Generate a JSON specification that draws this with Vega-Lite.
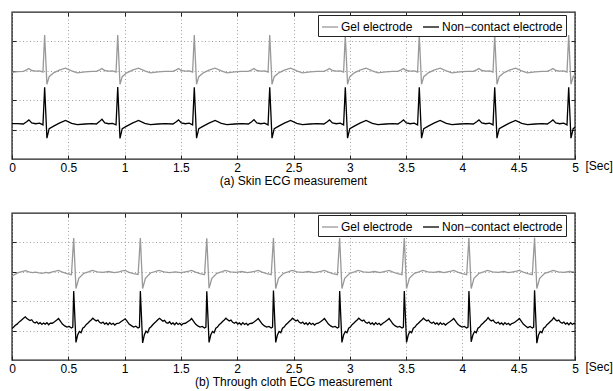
{
  "$schema": "https://vega.github.io/schema/vega-lite/v6.json",
  "background": "white",
  "padding": {"left": 7, "top": 10, "right": 0, "bottom": 0},
  "config": {
    "font": "Liberation Sans",
    "view": {"stroke": "#222222", "strokeWidth": 1.4},
    "concat": {"spacing": 23},
    "axis": {
      "labelFont": "Liberation Sans", "labelFontSize": 12, "labelColor": "black",
      "titleFont": "Liberation Sans", "titleFontSize": 12, "titleFontWeight": "normal", "titleColor": "black",
      "gridColor": "#8a8a8a", "gridDash": [1, 2.5], "gridWidth": 0.8, "gridOpacity": 1,
      "domain": false, "tickColor": "#222222", "tickWidth": 1, "minExtent": 0, "labelFlush": false
    },
    "legend": {
      "labelFont": "Liberation Sans", "labelFontSize": 12, "labelColor": "black",
      "symbolType": "stroke", "symbolStrokeWidth": 1.3, "symbolSize": 256,
      "strokeColor": "#222222", "fillColor": "white", "padding": 3,
      "columnPadding": 7, "labelOffset": 2, "direction": "horizontal", "title": null
    },
    "title": {"font": "Liberation Sans", "fontSize": 12, "fontWeight": "normal", "color": "black"}
  },
  "datasets": {
    "ag": [
      {"t":0,"v":2.95},{"t":0.05,"v":2.97},{"t":0.10,"v":2.98},{"t":0.13,"v":3.03},{"t":0.15,"v":3.08},{"t":0.175,"v":3.01},{"t":0.21,"v":2.99},{"t":0.245,"v":3.00},{"t":0.275,"v":2.96},{"t":0.290,"v":4.22},{"t":0.310,"v":2.54},{"t":0.330,"v":2.80},{"t":0.370,"v":2.93},{"t":0.420,"v":3.02},{"t":0.475,"v":3.09},{"t":0.530,"v":3.00},{"t":0.580,"v":2.93},{"t":0.650,"v":2.96},{"t":0.710,"v":2.98},
      {"t":0.749,"v":2.98},{"t":0.779,"v":3.03},{"t":0.799,"v":3.08},{"t":0.824,"v":3.01},{"t":0.859,"v":2.99},{"t":0.894,"v":3.00},{"t":0.924,"v":2.96},{"t":0.939,"v":4.22},{"t":0.959,"v":2.54},{"t":0.979,"v":2.80},{"t":1.019,"v":2.93},{"t":1.069,"v":3.02},{"t":1.124,"v":3.09},{"t":1.179,"v":3.00},{"t":1.229,"v":2.93},{"t":1.299,"v":2.96},{"t":1.359,"v":2.98},
      {"t":1.429,"v":2.98},{"t":1.459,"v":3.03},{"t":1.479,"v":3.08},{"t":1.504,"v":3.01},{"t":1.539,"v":2.99},{"t":1.574,"v":3.00},{"t":1.604,"v":2.96},{"t":1.619,"v":4.22},{"t":1.639,"v":2.54},{"t":1.659,"v":2.80},{"t":1.699,"v":2.93},{"t":1.749,"v":3.02},{"t":1.804,"v":3.09},{"t":1.859,"v":3.00},{"t":1.909,"v":2.93},{"t":1.979,"v":2.96},{"t":2.039,"v":2.98},
      {"t":2.099,"v":2.98},{"t":2.129,"v":3.03},{"t":2.149,"v":3.08},{"t":2.174,"v":3.01},{"t":2.209,"v":2.99},{"t":2.244,"v":3.00},{"t":2.274,"v":2.96},{"t":2.289,"v":4.22},{"t":2.309,"v":2.54},{"t":2.329,"v":2.80},{"t":2.369,"v":2.93},{"t":2.419,"v":3.02},{"t":2.474,"v":3.09},{"t":2.529,"v":3.00},{"t":2.579,"v":2.93},{"t":2.649,"v":2.96},{"t":2.709,"v":2.98},
      {"t":2.770,"v":2.98},{"t":2.800,"v":3.03},{"t":2.820,"v":3.08},{"t":2.845,"v":3.01},{"t":2.880,"v":2.99},{"t":2.915,"v":3.00},{"t":2.945,"v":2.96},{"t":2.960,"v":4.22},{"t":2.980,"v":2.54},{"t":3.000,"v":2.80},{"t":3.040,"v":2.93},{"t":3.090,"v":3.02},{"t":3.145,"v":3.09},{"t":3.200,"v":3.00},{"t":3.250,"v":2.93},{"t":3.320,"v":2.96},{"t":3.380,"v":2.98},
      {"t":3.427,"v":2.98},{"t":3.457,"v":3.03},{"t":3.477,"v":3.08},{"t":3.502,"v":3.01},{"t":3.537,"v":2.99},{"t":3.572,"v":3.00},{"t":3.602,"v":2.96},{"t":3.617,"v":4.22},{"t":3.637,"v":2.54},{"t":3.657,"v":2.80},{"t":3.697,"v":2.93},{"t":3.747,"v":3.02},{"t":3.802,"v":3.09},{"t":3.857,"v":3.00},{"t":3.907,"v":2.93},{"t":3.977,"v":2.96},{"t":4.037,"v":2.98},
      {"t":4.097,"v":2.98},{"t":4.127,"v":3.03},{"t":4.147,"v":3.08},{"t":4.172,"v":3.01},{"t":4.207,"v":2.99},{"t":4.242,"v":3.00},{"t":4.272,"v":2.96},{"t":4.287,"v":4.22},{"t":4.307,"v":2.54},{"t":4.327,"v":2.80},{"t":4.367,"v":2.93},{"t":4.417,"v":3.02},{"t":4.472,"v":3.09},{"t":4.527,"v":3.00},{"t":4.577,"v":2.93},{"t":4.647,"v":2.96},{"t":4.707,"v":2.98},
      {"t":4.754,"v":2.98},{"t":4.784,"v":3.03},{"t":4.804,"v":3.08},{"t":4.829,"v":3.01},{"t":4.864,"v":2.99},{"t":4.899,"v":3.00},{"t":4.929,"v":2.96},{"t":4.944,"v":4.22},{"t":4.964,"v":2.54},{"t":4.984,"v":2.80},{"t":5.000,"v":2.86}
    ],
    "an": [
      {"t":0,"v":1.20},{"t":0.05,"v":1.20},{"t":0.10,"v":1.19},{"t":0.13,"v":1.27},{"t":0.15,"v":1.33},{"t":0.175,"v":1.23},{"t":0.21,"v":1.20},{"t":0.245,"v":1.22},{"t":0.275,"v":1.16},{"t":0.290,"v":2.44},{"t":0.310,"v":0.71},{"t":0.330,"v":1.03},{"t":0.370,"v":1.12},{"t":0.420,"v":1.22},{"t":0.475,"v":1.31},{"t":0.530,"v":1.21},{"t":0.580,"v":1.17},{"t":0.650,"v":1.19},{"t":0.710,"v":1.20},
      {"t":0.749,"v":1.19},{"t":0.779,"v":1.28},{"t":0.799,"v":1.35},{"t":0.824,"v":1.23},{"t":0.859,"v":1.20},{"t":0.894,"v":1.21},{"t":0.924,"v":1.16},{"t":0.939,"v":2.45},{"t":0.959,"v":0.70},{"t":0.979,"v":1.03},{"t":1.019,"v":1.12},{"t":1.069,"v":1.22},{"t":1.124,"v":1.31},{"t":1.179,"v":1.21},{"t":1.229,"v":1.17},{"t":1.299,"v":1.19},{"t":1.359,"v":1.20},
      {"t":1.429,"v":1.19},{"t":1.459,"v":1.27},{"t":1.479,"v":1.33},{"t":1.504,"v":1.23},{"t":1.539,"v":1.20},{"t":1.574,"v":1.22},{"t":1.604,"v":1.16},{"t":1.619,"v":2.44},{"t":1.639,"v":0.71},{"t":1.659,"v":1.03},{"t":1.699,"v":1.12},{"t":1.749,"v":1.22},{"t":1.804,"v":1.31},{"t":1.859,"v":1.21},{"t":1.909,"v":1.17},{"t":1.979,"v":1.19},{"t":2.039,"v":1.20},
      {"t":2.099,"v":1.19},{"t":2.129,"v":1.27},{"t":2.149,"v":1.34},{"t":2.174,"v":1.23},{"t":2.209,"v":1.20},{"t":2.244,"v":1.22},{"t":2.274,"v":1.16},{"t":2.289,"v":2.44},{"t":2.309,"v":0.71},{"t":2.329,"v":1.03},{"t":2.369,"v":1.12},{"t":2.419,"v":1.22},{"t":2.474,"v":1.31},{"t":2.529,"v":1.21},{"t":2.579,"v":1.17},{"t":2.649,"v":1.19},{"t":2.709,"v":1.20},
      {"t":2.770,"v":1.19},{"t":2.800,"v":1.27},{"t":2.820,"v":1.33},{"t":2.845,"v":1.23},{"t":2.880,"v":1.20},{"t":2.915,"v":1.22},{"t":2.945,"v":1.16},{"t":2.960,"v":2.44},{"t":2.980,"v":0.71},{"t":3.000,"v":1.03},{"t":3.040,"v":1.12},{"t":3.090,"v":1.22},{"t":3.145,"v":1.31},{"t":3.200,"v":1.21},{"t":3.250,"v":1.17},{"t":3.320,"v":1.19},{"t":3.380,"v":1.20},
      {"t":3.427,"v":1.19},{"t":3.457,"v":1.27},{"t":3.477,"v":1.33},{"t":3.502,"v":1.23},{"t":3.537,"v":1.20},{"t":3.572,"v":1.22},{"t":3.602,"v":1.16},{"t":3.617,"v":2.44},{"t":3.637,"v":0.71},{"t":3.657,"v":1.03},{"t":3.697,"v":1.12},{"t":3.747,"v":1.22},{"t":3.802,"v":1.31},{"t":3.857,"v":1.21},{"t":3.907,"v":1.17},{"t":3.977,"v":1.19},{"t":4.037,"v":1.20},
      {"t":4.097,"v":1.19},{"t":4.127,"v":1.27},{"t":4.147,"v":1.33},{"t":4.172,"v":1.23},{"t":4.207,"v":1.20},{"t":4.242,"v":1.22},{"t":4.272,"v":1.16},{"t":4.287,"v":2.44},{"t":4.307,"v":0.71},{"t":4.327,"v":1.03},{"t":4.367,"v":1.12},{"t":4.417,"v":1.22},{"t":4.472,"v":1.31},{"t":4.527,"v":1.21},{"t":4.577,"v":1.17},{"t":4.647,"v":1.19},{"t":4.707,"v":1.20},
      {"t":4.754,"v":1.19},{"t":4.784,"v":1.27},{"t":4.804,"v":1.33},{"t":4.829,"v":1.23},{"t":4.864,"v":1.20},{"t":4.899,"v":1.22},{"t":4.929,"v":1.16},{"t":4.944,"v":2.44},{"t":4.964,"v":0.71},{"t":4.984,"v":1.03},{"t":5.000,"v":1.08}
    ],
    "bg": [
      {"t":0,"v":2.85},{"t":0.03,"v":2.92},{"t":0.06,"v":2.98},{"t":0.09,"v":3.01},{"t":0.12,"v":3.04},{"t":0.15,"v":3.00},{"t":0.18,"v":2.97},{"t":0.21,"v":2.99},{"t":0.24,"v":2.96},{"t":0.27,"v":2.95},{"t":0.30,"v":2.98},{"t":0.33,"v":2.96},
      {"t":0.358,"v":3.00},{"t":0.388,"v":3.02},{"t":0.413,"v":3.05},{"t":0.448,"v":2.99},{"t":0.488,"v":2.94},{"t":0.528,"v":2.90},{"t":0.548,"v":4.15},{"t":0.568,"v":2.43},{"t":0.593,"v":2.78},{"t":0.638,"v":2.95},{"t":0.678,"v":3.00},{"t":0.713,"v":3.05},{"t":0.758,"v":3.00},{"t":0.808,"v":2.98},{"t":0.858,"v":3.01},{"t":0.908,"v":2.97},
      {"t":0.950,"v":3.00},{"t":0.980,"v":3.03},{"t":1.005,"v":3.05},{"t":1.040,"v":2.98},{"t":1.080,"v":2.94},{"t":1.120,"v":2.91},{"t":1.140,"v":4.15},{"t":1.160,"v":2.43},{"t":1.185,"v":2.78},{"t":1.230,"v":2.96},{"t":1.270,"v":3.01},{"t":1.305,"v":3.05},{"t":1.350,"v":3.00},{"t":1.400,"v":2.97},{"t":1.450,"v":3.00},{"t":1.500,"v":2.97},
      {"t":1.540,"v":3.00},{"t":1.570,"v":3.02},{"t":1.595,"v":3.05},{"t":1.630,"v":2.99},{"t":1.670,"v":2.94},{"t":1.710,"v":2.90},{"t":1.730,"v":4.14},{"t":1.750,"v":2.44},{"t":1.775,"v":2.78},{"t":1.820,"v":2.95},{"t":1.860,"v":3.00},{"t":1.895,"v":3.05},{"t":1.940,"v":3.00},{"t":1.990,"v":2.98},{"t":2.040,"v":3.01},{"t":2.090,"v":2.97},
      {"t":2.132,"v":3.00},{"t":2.162,"v":3.02},{"t":2.187,"v":3.05},{"t":2.222,"v":2.99},{"t":2.262,"v":2.94},{"t":2.302,"v":2.90},{"t":2.322,"v":4.15},{"t":2.342,"v":2.43},{"t":2.367,"v":2.78},{"t":2.412,"v":2.95},{"t":2.452,"v":3.00},{"t":2.487,"v":3.05},{"t":2.532,"v":3.00},{"t":2.582,"v":2.98},{"t":2.632,"v":3.01},{"t":2.682,"v":2.97},
      {"t":2.720,"v":3.00},{"t":2.750,"v":3.02},{"t":2.775,"v":3.05},{"t":2.810,"v":2.99},{"t":2.850,"v":2.94},{"t":2.890,"v":2.90},{"t":2.910,"v":4.15},{"t":2.930,"v":2.43},{"t":2.955,"v":2.78},{"t":3.000,"v":2.95},{"t":3.040,"v":3.00},{"t":3.075,"v":3.05},{"t":3.120,"v":3.00},{"t":3.170,"v":2.98},{"t":3.220,"v":3.01},{"t":3.270,"v":2.97},
      {"t":3.294,"v":3.00},{"t":3.324,"v":3.02},{"t":3.349,"v":3.05},{"t":3.384,"v":2.99},{"t":3.424,"v":2.94},{"t":3.464,"v":2.90},{"t":3.484,"v":4.15},{"t":3.504,"v":2.43},{"t":3.529,"v":2.78},{"t":3.574,"v":2.95},{"t":3.614,"v":3.00},{"t":3.649,"v":3.05},{"t":3.694,"v":3.00},{"t":3.744,"v":2.98},{"t":3.794,"v":3.01},{"t":3.834,"v":2.97},
      {"t":3.868,"v":3.00},{"t":3.898,"v":3.02},{"t":3.923,"v":3.05},{"t":3.958,"v":2.99},{"t":3.998,"v":2.94},{"t":4.038,"v":2.90},{"t":4.058,"v":4.15},{"t":4.078,"v":2.43},{"t":4.103,"v":2.78},{"t":4.148,"v":2.95},{"t":4.188,"v":3.00},{"t":4.223,"v":3.05},{"t":4.268,"v":3.00},{"t":4.318,"v":2.98},{"t":4.368,"v":3.01},{"t":4.408,"v":2.97},
      {"t":4.451,"v":3.00},{"t":4.481,"v":3.02},{"t":4.506,"v":3.05},{"t":4.541,"v":2.99},{"t":4.581,"v":2.94},{"t":4.621,"v":2.90},{"t":4.641,"v":4.16},{"t":4.661,"v":2.43},{"t":4.686,"v":2.78},{"t":4.731,"v":2.95},{"t":4.771,"v":3.00},{"t":4.806,"v":3.05},{"t":4.851,"v":3.00},{"t":4.901,"v":2.98},{"t":4.951,"v":3.01},{"t":5.000,"v":2.99}
    ],
    "bn": [
      {"t":0,"v":1.07},{"t":0.015,"v":1.12},{"t":0.03,"v":1.18},{"t":0.045,"v":1.22},{"t":0.06,"v":1.28},{"t":0.075,"v":1.33},{"t":0.09,"v":1.38},{"t":0.105,"v":1.43},{"t":0.118,"v":1.47},{"t":0.13,"v":1.42},{"t":0.145,"v":1.38},{"t":0.16,"v":1.34},{"t":0.175,"v":1.37},{"t":0.19,"v":1.29},{"t":0.205,"v":1.26},{"t":0.22,"v":1.30},{"t":0.235,"v":1.23},{"t":0.25,"v":1.27},{"t":0.265,"v":1.21},{"t":0.28,"v":1.26},{"t":0.295,"v":1.22},{"t":0.31,"v":1.27},{"t":0.325,"v":1.20},{"t":0.34,"v":1.25},
      {"t":0.358,"v":1.25},{"t":0.378,"v":1.30},{"t":0.398,"v":1.36},{"t":0.413,"v":1.41},{"t":0.428,"v":1.33},{"t":0.448,"v":1.22},{"t":0.468,"v":1.16},{"t":0.488,"v":1.12},{"t":0.508,"v":1.14},{"t":0.528,"v":1.09},{"t":0.540,"v":1.12},{"t":0.548,"v":2.35},{"t":0.568,"v":0.60},{"t":0.583,"v":0.85},{"t":0.598,"v":0.97},{"t":0.613,"v":0.93},{"t":0.628,"v":1.08},{"t":0.643,"v":1.12},{"t":0.658,"v":1.20},{"t":0.673,"v":1.25},{"t":0.688,"v":1.31},{"t":0.703,"v":1.36},{"t":0.718,"v":1.42},{"t":0.733,"v":1.37},{"t":0.748,"v":1.33},{"t":0.763,"v":1.36},{"t":0.778,"v":1.28},{"t":0.793,"v":1.25},{"t":0.808,"v":1.29},{"t":0.823,"v":1.22},{"t":0.838,"v":1.26},{"t":0.853,"v":1.20},{"t":0.868,"v":1.27},{"t":0.883,"v":1.21},{"t":0.898,"v":1.25},{"t":0.913,"v":1.19},{"t":0.928,"v":1.24},
      {"t":0.950,"v":1.25},{"t":0.970,"v":1.31},{"t":0.990,"v":1.36},{"t":1.005,"v":1.40},{"t":1.020,"v":1.33},{"t":1.040,"v":1.22},{"t":1.060,"v":1.17},{"t":1.080,"v":1.12},{"t":1.100,"v":1.15},{"t":1.120,"v":1.09},{"t":1.132,"v":1.12},{"t":1.140,"v":2.35},{"t":1.160,"v":0.58},{"t":1.175,"v":0.85},{"t":1.190,"v":0.98},{"t":1.205,"v":0.93},{"t":1.220,"v":1.08},{"t":1.235,"v":1.13},{"t":1.250,"v":1.20},{"t":1.265,"v":1.26},{"t":1.280,"v":1.31},{"t":1.295,"v":1.37},{"t":1.310,"v":1.42},{"t":1.325,"v":1.37},{"t":1.340,"v":1.32},{"t":1.355,"v":1.35},{"t":1.370,"v":1.27},{"t":1.385,"v":1.25},{"t":1.400,"v":1.30},{"t":1.415,"v":1.22},{"t":1.430,"v":1.26},{"t":1.445,"v":1.20},{"t":1.460,"v":1.27},{"t":1.475,"v":1.21},{"t":1.490,"v":1.25},{"t":1.505,"v":1.19},{"t":1.520,"v":1.24},
      {"t":1.540,"v":1.25},{"t":1.560,"v":1.30},{"t":1.580,"v":1.35},{"t":1.595,"v":1.41},{"t":1.610,"v":1.33},{"t":1.630,"v":1.22},{"t":1.650,"v":1.16},{"t":1.670,"v":1.12},{"t":1.690,"v":1.14},{"t":1.710,"v":1.09},{"t":1.722,"v":1.12},{"t":1.730,"v":2.34},{"t":1.750,"v":0.60},{"t":1.765,"v":0.85},{"t":1.780,"v":0.97},{"t":1.795,"v":0.93},{"t":1.810,"v":1.08},{"t":1.825,"v":1.12},{"t":1.840,"v":1.20},{"t":1.855,"v":1.25},{"t":1.870,"v":1.31},{"t":1.885,"v":1.36},{"t":1.900,"v":1.42},{"t":1.915,"v":1.37},{"t":1.930,"v":1.33},{"t":1.945,"v":1.36},{"t":1.960,"v":1.28},{"t":1.975,"v":1.25},{"t":1.990,"v":1.29},{"t":2.005,"v":1.22},{"t":2.020,"v":1.26},{"t":2.035,"v":1.20},{"t":2.050,"v":1.27},{"t":2.065,"v":1.21},{"t":2.080,"v":1.25},{"t":2.095,"v":1.19},{"t":2.110,"v":1.24},
      {"t":2.132,"v":1.25},{"t":2.152,"v":1.30},{"t":2.172,"v":1.36},{"t":2.187,"v":1.41},{"t":2.202,"v":1.33},{"t":2.222,"v":1.22},{"t":2.242,"v":1.16},{"t":2.262,"v":1.12},{"t":2.282,"v":1.14},{"t":2.302,"v":1.09},{"t":2.314,"v":1.12},{"t":2.322,"v":2.36},{"t":2.342,"v":0.60},{"t":2.357,"v":0.85},{"t":2.372,"v":0.97},{"t":2.387,"v":0.93},{"t":2.402,"v":1.08},{"t":2.417,"v":1.12},{"t":2.432,"v":1.20},{"t":2.447,"v":1.25},{"t":2.462,"v":1.31},{"t":2.477,"v":1.36},{"t":2.492,"v":1.42},{"t":2.507,"v":1.37},{"t":2.522,"v":1.33},{"t":2.537,"v":1.36},{"t":2.552,"v":1.28},{"t":2.567,"v":1.25},{"t":2.582,"v":1.29},{"t":2.597,"v":1.22},{"t":2.612,"v":1.26},{"t":2.627,"v":1.20},{"t":2.642,"v":1.27},{"t":2.657,"v":1.21},{"t":2.672,"v":1.25},{"t":2.687,"v":1.19},{"t":2.702,"v":1.24},
      {"t":2.720,"v":1.25},{"t":2.740,"v":1.30},{"t":2.760,"v":1.36},{"t":2.775,"v":1.41},{"t":2.790,"v":1.33},{"t":2.810,"v":1.22},{"t":2.830,"v":1.16},{"t":2.850,"v":1.12},{"t":2.870,"v":1.14},{"t":2.890,"v":1.09},{"t":2.902,"v":1.12},{"t":2.910,"v":2.35},{"t":2.930,"v":0.60},{"t":2.945,"v":0.85},{"t":2.960,"v":0.97},{"t":2.975,"v":0.93},{"t":2.990,"v":1.08},{"t":3.005,"v":1.12},{"t":3.020,"v":1.20},{"t":3.035,"v":1.25},{"t":3.050,"v":1.31},{"t":3.065,"v":1.36},{"t":3.080,"v":1.42},{"t":3.095,"v":1.37},{"t":3.110,"v":1.33},{"t":3.125,"v":1.36},{"t":3.140,"v":1.28},{"t":3.155,"v":1.25},{"t":3.170,"v":1.29},{"t":3.185,"v":1.22},{"t":3.200,"v":1.26},{"t":3.215,"v":1.20},{"t":3.230,"v":1.27},{"t":3.245,"v":1.21},{"t":3.260,"v":1.25},{"t":3.275,"v":1.19},
      {"t":3.294,"v":1.25},{"t":3.314,"v":1.30},{"t":3.334,"v":1.36},{"t":3.349,"v":1.41},{"t":3.364,"v":1.33},{"t":3.384,"v":1.22},{"t":3.404,"v":1.16},{"t":3.424,"v":1.12},{"t":3.444,"v":1.14},{"t":3.464,"v":1.09},{"t":3.476,"v":1.12},{"t":3.484,"v":2.35},{"t":3.504,"v":0.60},{"t":3.519,"v":0.85},{"t":3.534,"v":0.97},{"t":3.549,"v":0.93},{"t":3.564,"v":1.08},{"t":3.579,"v":1.12},{"t":3.594,"v":1.20},{"t":3.609,"v":1.25},{"t":3.624,"v":1.31},{"t":3.639,"v":1.36},{"t":3.654,"v":1.42},{"t":3.669,"v":1.37},{"t":3.684,"v":1.33},{"t":3.699,"v":1.36},{"t":3.714,"v":1.28},{"t":3.729,"v":1.25},{"t":3.744,"v":1.29},{"t":3.759,"v":1.22},{"t":3.774,"v":1.26},{"t":3.789,"v":1.20},{"t":3.804,"v":1.27},{"t":3.819,"v":1.21},{"t":3.834,"v":1.25},{"t":3.849,"v":1.19},
      {"t":3.868,"v":1.25},{"t":3.888,"v":1.30},{"t":3.908,"v":1.36},{"t":3.923,"v":1.41},{"t":3.938,"v":1.33},{"t":3.958,"v":1.22},{"t":3.978,"v":1.16},{"t":3.998,"v":1.12},{"t":4.018,"v":1.14},{"t":4.038,"v":1.09},{"t":4.050,"v":1.12},{"t":4.058,"v":2.35},{"t":4.078,"v":0.62},{"t":4.093,"v":0.85},{"t":4.108,"v":0.97},{"t":4.123,"v":0.93},{"t":4.138,"v":1.08},{"t":4.153,"v":1.12},{"t":4.168,"v":1.20},{"t":4.183,"v":1.25},{"t":4.198,"v":1.31},{"t":4.213,"v":1.36},{"t":4.228,"v":1.44},{"t":4.243,"v":1.37},{"t":4.258,"v":1.33},{"t":4.273,"v":1.36},{"t":4.288,"v":1.28},{"t":4.303,"v":1.25},{"t":4.318,"v":1.29},{"t":4.333,"v":1.22},{"t":4.348,"v":1.26},{"t":4.363,"v":1.20},{"t":4.378,"v":1.27},{"t":4.393,"v":1.21},{"t":4.408,"v":1.25},{"t":4.423,"v":1.19},{"t":4.438,"v":1.24},
      {"t":4.451,"v":1.25},{"t":4.471,"v":1.30},{"t":4.491,"v":1.36},{"t":4.506,"v":1.41},{"t":4.521,"v":1.33},{"t":4.541,"v":1.22},{"t":4.561,"v":1.16},{"t":4.581,"v":1.10},{"t":4.601,"v":1.14},{"t":4.621,"v":1.09},{"t":4.633,"v":1.12},{"t":4.641,"v":2.37},{"t":4.661,"v":0.57},{"t":4.676,"v":0.85},{"t":4.691,"v":0.97},{"t":4.706,"v":0.93},{"t":4.721,"v":1.08},{"t":4.736,"v":1.12},{"t":4.751,"v":1.20},{"t":4.766,"v":1.25},{"t":4.781,"v":1.31},{"t":4.796,"v":1.36},{"t":4.811,"v":1.44},{"t":4.826,"v":1.37},{"t":4.841,"v":1.33},{"t":4.856,"v":1.36},{"t":4.871,"v":1.28},{"t":4.886,"v":1.25},{"t":4.901,"v":1.29},{"t":4.916,"v":1.22},{"t":4.931,"v":1.26},{"t":4.946,"v":1.20},{"t":4.961,"v":1.27},{"t":4.976,"v":1.21},{"t":4.991,"v":1.25},{"t":5.000,"v":1.22}
    ]
  },
  "vconcat": [
    {
      "width": 563, "height": 147,
      "title": {"text": "(a) Skin ECG measurement", "orient": "bottom", "anchor": "middle", "offset": 3},
      "resolve": {"axis": {"x": "independent", "y": "independent"}},
      "layer": [
        {
          "data": {"name": "ag"},
          "mark": {"type": "line", "strokeWidth": 1.3, "clip": true},
          "encoding": {
            "x": {"field": "t", "type": "quantitative", "scale": {"domain": [0, 5], "nice": false, "zero": false},
                  "axis": {"orient": "bottom", "values": [0, 0.5, 1, 1.5, 2, 2.5, 3, 3.5, 4, 4.5, 5], "format": "~g", "grid": true, "ticks": true, "tickSize": -4, "labelPadding": 7,
                           "title": "[Sec]", "titleX": 573, "titleY": 6, "titleAlign": "left", "titleBaseline": "middle", "titleAnchor": null}},
            "y": {"field": "v", "type": "quantitative", "scale": {"domain": [0, 5], "nice": false, "zero": false},
                  "axis": {"orient": "left", "values": [1, 2, 3, 4], "labels": false, "grid": true, "ticks": true, "tickSize": -4, "title": null}},
            "color": {"datum": "Gel electrode", "type": "nominal",
                      "scale": {"domain": ["Gel electrode", "Non−contact electrode"], "range": ["#999999", "#000000"]},
                      "legend": {"orient": "none", "legendX": 306, "legendY": 3}}
          }
        },
        {
          "data": {"name": "an"},
          "mark": {"type": "line", "strokeWidth": 1.3, "clip": true},
          "encoding": {
            "x": {"field": "t", "type": "quantitative", "scale": {"domain": [0, 5], "nice": false, "zero": false},
                  "axis": {"orient": "top", "values": [0.5, 1, 1.5, 2, 2.5, 3, 3.5, 4, 4.5], "labels": false, "grid": false, "ticks": true, "tickSize": -4, "title": null}},
            "y": {"field": "v", "type": "quantitative", "scale": {"domain": [0, 5], "nice": false, "zero": false},
                  "axis": {"orient": "right", "values": [1, 2, 3, 4], "labels": false, "grid": false, "ticks": true, "tickSize": -4, "title": null}},
            "color": {"datum": "Non−contact electrode", "type": "nominal",
                      "scale": {"domain": ["Gel electrode", "Non−contact electrode"], "range": ["#999999", "#000000"]},
                      "legend": {"orient": "none", "legendX": 306, "legendY": 3}}
          }
        }
      ]
    },
    {
      "width": 563, "height": 147,
      "title": {"text": "(b) Through cloth ECG measurement", "orient": "bottom", "anchor": "middle", "offset": 3},
      "resolve": {"axis": {"x": "independent", "y": "independent"}},
      "layer": [
        {
          "data": {"name": "bg"},
          "mark": {"type": "line", "strokeWidth": 1.3, "clip": true},
          "encoding": {
            "x": {"field": "t", "type": "quantitative", "scale": {"domain": [0, 5], "nice": false, "zero": false},
                  "axis": {"orient": "bottom", "values": [0, 0.5, 1, 1.5, 2, 2.5, 3, 3.5, 4, 4.5, 5], "format": "~g", "grid": true, "ticks": true, "tickSize": -4, "labelPadding": 7,
                           "title": "[Sec]", "titleX": 573, "titleY": 6, "titleAlign": "left", "titleBaseline": "middle", "titleAnchor": null}},
            "y": {"field": "v", "type": "quantitative", "scale": {"domain": [0, 5], "nice": false, "zero": false},
                  "axis": {"orient": "left", "values": [1, 2, 3, 4], "labels": false, "grid": true, "ticks": true, "tickSize": -4, "title": null}},
            "color": {"datum": "Gel electrode", "type": "nominal",
                      "scale": {"domain": ["Gel electrode", "Non−contact electrode"], "range": ["#999999", "#000000"]},
                      "legend": {"orient": "none", "legendX": 306, "legendY": 2}}
          }
        },
        {
          "data": {"name": "bn"},
          "mark": {"type": "line", "strokeWidth": 1.3, "clip": true},
          "encoding": {
            "x": {"field": "t", "type": "quantitative", "scale": {"domain": [0, 5], "nice": false, "zero": false},
                  "axis": {"orient": "top", "values": [0.5, 1, 1.5, 2, 2.5, 3, 3.5, 4, 4.5], "labels": false, "grid": false, "ticks": true, "tickSize": -4, "title": null}},
            "y": {"field": "v", "type": "quantitative", "scale": {"domain": [0, 5], "nice": false, "zero": false},
                  "axis": {"orient": "right", "values": [1, 2, 3, 4], "labels": false, "grid": false, "ticks": true, "tickSize": -4, "title": null}},
            "color": {"datum": "Non−contact electrode", "type": "nominal",
                      "scale": {"domain": ["Gel electrode", "Non−contact electrode"], "range": ["#999999", "#000000"]},
                      "legend": {"orient": "none", "legendX": 306, "legendY": 2}}
          }
        }
      ]
    }
  ],
  "resolve": {"legend": {"color": "independent"}, "scale": {"color": "independent"}}
}
